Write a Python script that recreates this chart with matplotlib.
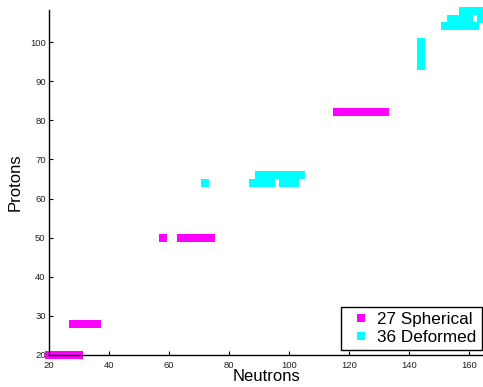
import matplotlib
matplotlib.use("Agg")
import matplotlib.pyplot as plt

plt.rcParams['font.family'] = ['Liberation Sans', 'DejaVu Sans']

# Spherical nuclei (neutrons, protons)
sph_N = [20, 22, 24, 26, 28, 30,
         28, 30, 32, 34, 36,
         58, 64, 66, 68, 70, 72, 74,
         116, 118, 120, 122, 124, 126, 128, 130, 132]
sph_Z = [20, 20, 20, 20, 20, 20,
         28, 28, 28, 28, 28,
         50, 50, 50, 50, 50, 50, 50,
         82, 82, 82, 82, 82, 82, 82, 82, 82]

# Deformed nuclei (neutrons, protons)
def_N = [72, 88, 90, 92, 94, 98, 100, 102,
         90, 92, 94, 96, 98, 100, 102, 104,
         144, 144, 144, 144,
         152, 154, 156, 158, 160, 162,
         154, 156, 158, 160, 164,
         158, 160, 162, 164]
def_Z = [64, 64, 64, 64, 64, 64, 64, 64,
         66, 66, 66, 66, 66, 66, 66, 66,
         94, 96, 98, 100,
         104, 104, 104, 104, 104, 104,
         106, 106, 106, 106, 106,
         108, 108, 108, 108]

labels = ['27 Spherical', '36 Deformed']
x_ticks = [20, 40, 60, 80, 100, 120, 140, 160]
y_ticks = [20, 30, 40, 50, 60, 70, 80, 90, 100]

W, H = 483, 387
fig = plt.figure(figsize=(W / 100, H / 100), dpi=100)
ax = fig.add_axes([49 / W, 32 / H, 434 / W, 345 / H])

ax.plot(sph_N, sph_Z, linestyle='none', marker='s', markersize=5.8,
        color='#FF00FF', markeredgewidth=0, label=labels[0], clip_on=False)
ax.plot(def_N, def_Z, linestyle='none', marker='s', markersize=5.8,
        color='#00FFFF', markeredgewidth=0, label=labels[1], clip_on=False)

ax.set_xlim(20, 164.7)
ax.set_ylim(20, 108.2)
ax.set_xticks(x_ticks)
ax.set_yticks(y_ticks)
ax.tick_params(direction='in', length=3, width=0.8, labelsize=6.8,
               labelcolor='#222222')
ax.tick_params(axis='x', pad=4)
ax.tick_params(axis='y', pad=2.4)
for s in ['top', 'right']:
    ax.spines[s].set_visible(False)
for s in ['left', 'bottom']:
    ax.spines[s].set_linewidth(1.0)
    ax.spines[s].set_color('black')

ax.set_xlabel('Neutrons', fontsize=12)
ax.set_ylabel('Protons', fontsize=12)
ax.xaxis.set_label_coords(0.5, -0.0406)
ax.yaxis.set_label_coords(-0.060, 0.5)

leg = ax.legend(loc='lower right', bbox_to_anchor=(481.5 / W, 37 / H),
                bbox_transform=fig.transFigure, borderaxespad=0,
                fontsize=12.3, frameon=True, fancybox=False,
                edgecolor='black', framealpha=1,
                handlelength=1.78, handletextpad=0.1, borderpad=0.28,
                labelspacing=0.2, markerscale=1.1)
leg.get_frame().set_linewidth(1.0)

fig.savefig('out.png', dpi=100)
